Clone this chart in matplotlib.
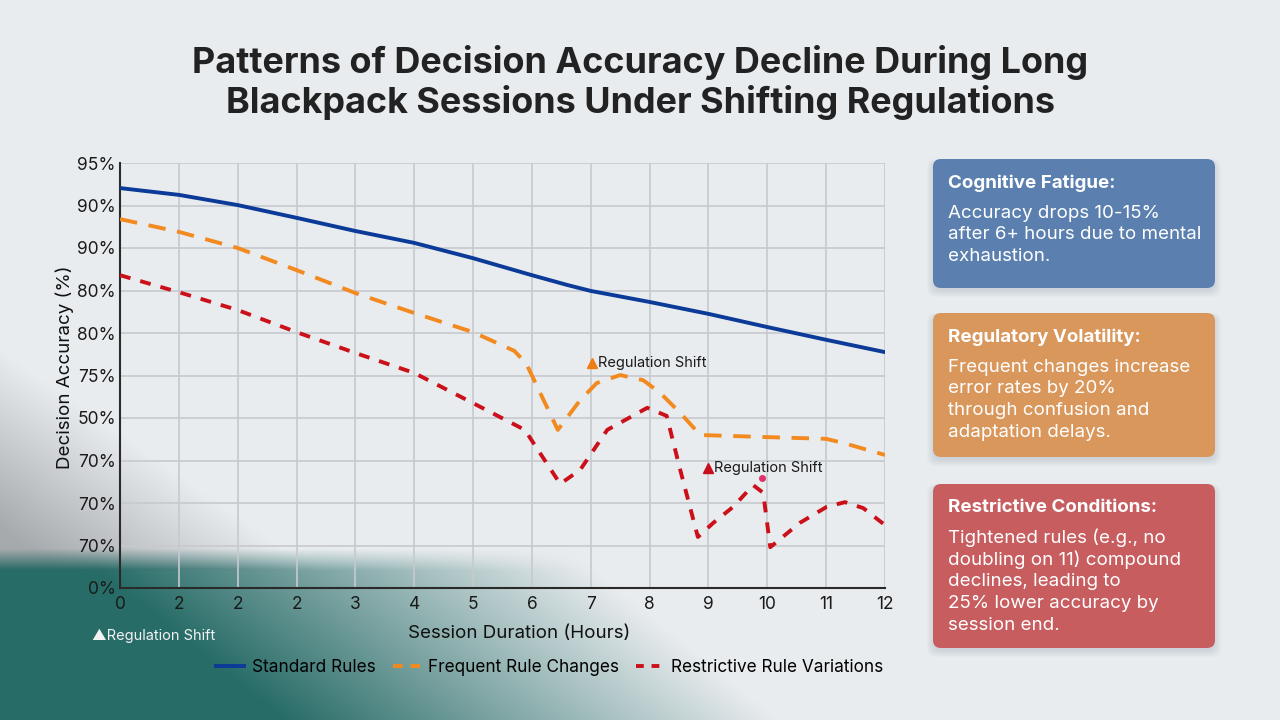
import numpy as np
import matplotlib
matplotlib.use("Agg")
import matplotlib.pyplot as plt
from matplotlib.patches import FancyBboxPatch
from matplotlib.lines import Line2D

plt.rcParams['font.family'] = ['Inter', 'DejaVu Sans']

# ---------------- data ----------------
x_tick_labels = ["0", "2", "2", "2", "3", "4", "5", "6", "7", "8", "9", "10", "11", "12"]
y_tick_labels = ["0%", "70%", "70%", "70%", "50%", "75%", "80%", "80%", "90%", "90%", "95%"]

std_x = [0, 1, 2, 3, 4, 5, 6, 7, 7.6, 8, 9, 10, 11, 12, 13]
std_y = [9.41, 9.25, 9.01, 8.71, 8.40, 8.12, 7.76, 7.36, 7.13, 6.99, 6.73, 6.45, 6.14, 5.84, 5.55]

freq_x = [0, 1, 2, 3, 4, 5, 6, 6.7, 6.9, 7.44, 7.82, 8.1, 8.5, 8.89, 9.18, 9.52, 9.86, 11.0, 12.0, 12.35, 13]
freq_y = [8.68, 8.38, 8.00, 7.48, 6.94, 6.47, 6.02, 5.58, 5.29, 3.72, 4.42, 4.82, 5.01, 4.89, 4.59, 4.12, 3.60, 3.55, 3.51, 3.39, 3.13]

restr_x = [0, 1, 2, 3, 4, 5, 6, 6.88, 7.48, 7.82, 8.28, 8.96, 9.29, 9.52, 9.82, 10.08, 10.42, 10.76, 10.93, 11.05, 11.55, 12.01, 12.32, 12.63, 13]
restr_y = [7.36, 6.96, 6.54, 6.02, 5.53, 5.06, 4.35, 3.72, 2.45, 2.78, 3.72, 4.24, 4.05, 2.78, 1.20, 1.53, 1.91, 2.42, 2.24, 0.96, 1.53, 1.91, 2.02, 1.88, 1.48]

annotations = [("Regulation Shift", 8.02, 5.29, "#ee7d12"),
               ("Regulation Shift", 9.99, 2.82, "#c8101c")]
marker_pt = (10.91, 2.59)

series_labels = ["Standard Rules", "Frequent Rule Changes", "Restrictive Rule Variations"]

title_lines = ["Patterns of Decision Accuracy Decline During Long",
               "Blackpack Sessions Under Shifting Regulations"]

boxes = [
    ("Cognitive Fatigue:", ["Accuracy drops 10-15%", "after 6+ hours due to mental", "exhaustion."], "#5b80b0", 159, 288),
    ("Regulatory Volatility:", ["Frequent changes increase", "error rates by 20%", "through confusion and", "adaptation delays."], "#d9975c", 313, 457),
    ("Restrictive Conditions:", ["Tightened rules (e.g., no", "doubling on 11) compound", "declines, leading to", "25% lower accuracy by", "session end."], "#c85d60", 484, 648),
]

BG = "#e9ecef"
W, H = 1280, 720

fig = plt.figure(figsize=(12.8, 7.2), dpi=100, facecolor=BG)

# ---------------- background decoration (photo-like fade) ----------------
bg = fig.add_axes([0, 0, 1, 1], zorder=0)
bg.set_xlim(0, W); bg.set_ylim(H, 0); bg.axis("off")
yy, xx = np.mgrid[0:H, 0:W].astype(float)
img = np.zeros((H, W, 4))
img[..., :3] = np.array([0xe9, 0xec, 0xef]) / 255.0
img[..., 3] = 1.0
# suit haze
a_suit = np.clip(0.5 - xx / 600.0 - (560 - yy) / 420.0, 0, 0.42) * (yy < 570)
col_suit = np.array([0.30, 0.31, 0.33])
# green table
edge = np.clip((yy - 548) / 22.0, 0, 1)
a_tab = np.clip(1.5 - xx / 520.0 - (720 - yy) / 420.0, 0, 0.95) * edge
col_tab = np.array([0.12, 0.40, 0.38])
for c in range(3):
    img[..., c] = img[..., c] * (1 - a_suit) + col_suit[c] * a_suit
    img[..., c] = img[..., c] * (1 - a_tab) + col_tab[c] * a_tab
bg.imshow(img, extent=(0, W, H, 0), aspect="auto", interpolation="bilinear")

# ---------------- main chart ----------------
ax = fig.add_axes([120 / W, 1 - 588 / H, 765 / W, 425 / H], zorder=1)
ax.set_facecolor("none")
ax.set_xlim(0, 13)
ax.set_ylim(0, 10)
ax.set_xticks(range(len(x_tick_labels)))
ax.set_xticklabels(x_tick_labels)
ax.set_yticks(range(len(y_tick_labels)))
ax.set_yticklabels(y_tick_labels)
ax.tick_params(length=0, labelsize=12.5, colors="#1a1a1a")
ax.tick_params(axis="y", pad=3)
ax.tick_params(axis="x", pad=6)
ax.grid(True, color="#c6cacf", linewidth=1.2)
for s in ["top", "right"]:
    ax.spines[s].set_visible(False)
for s in ["left", "bottom"]:
    ax.spines[s].set_color("#2a2a2a")
    ax.spines[s].set_linewidth(1.5)

ax.plot(std_x, std_y, color="#0b3a98", lw=2.8, solid_capstyle="round", label=series_labels[0], zorder=3)
ax.plot(freq_x, freq_y, color="#f28a1f", lw=2.8, dashes=(4.5, 3.0), label=series_labels[1], zorder=3)
ax.plot(restr_x, restr_y, color="#cc1019", lw=2.8, dashes=(2.8, 2.6), label=series_labels[2], zorder=3)
ax.plot([marker_pt[0]], [marker_pt[1]], "o", color="#e0306a", ms=4, zorder=4)

for txt, xv, yv, col in annotations:
    ax.plot([xv], [yv], marker="^", color=col, ms=7, ls="none", zorder=4)
    ax.text(xv + 0.1, yv, txt, fontsize=10.5, color="#1a1a1a", va="center", ha="left", zorder=4)

ax.set_xlabel("Session Duration (Hours)", fontsize=13.5, color="#111111")
ax.xaxis.set_label_coords(0.522, -0.087)
ax.set_ylabel("Decision Accuracy (%)", fontsize=13.5, color="#111111")
ax.yaxis.set_label_coords(-0.06, 0.52)

handles = [Line2D([0], [0], color="#0b3a98", lw=2.8),
           Line2D([0], [0], color="#f28a1f", lw=2.8, dashes=(2.5, 2.0)),
           Line2D([0], [0], color="#cc1019", lw=2.8, dashes=(2.0, 2.0))]
fig.legend(handles, series_labels, loc="center", bbox_to_anchor=(550 / W, 1 - 668 / H),
           ncol=3, frameon=False, fontsize=12.4, handlelength=1.6, handletextpad=0.45,
           columnspacing=1.0)

# ---------------- overlay: title, boxes ----------------
ov = fig.add_axes([0, 0, 1, 1], zorder=2)
ov.set_facecolor("none")
ov.set_xlim(0, W); ov.set_ylim(H, 0); ov.axis("off")

ov.text(640, 62, title_lines[0], fontsize=25.9, fontweight="bold", color="#222222", ha="center", va="center")
ov.text(640, 102, title_lines[1], fontsize=25.9, fontweight="bold", color="#222222", ha="center", va="center")

ov.text(92, 636, "\u25B2Regulation Shift", fontsize=10.5, color="#f2f2f2", ha="left", va="center")

for head, body, col, y0, y1 in boxes:
    x0, x1 = 933, 1215
    for k in range(6):
        sh = FancyBboxPatch((x0 - k * 1.2, y0 + 3 - k * 0.6), x1 - x0 + k * 2.4, y1 - y0 + k * 1.8,
                            boxstyle="round,pad=0,rounding_size=9", fc="#8090a0", ec="none",
                            alpha=0.045)
        ov.add_patch(sh)
    p = FancyBboxPatch((x0, y0), x1 - x0, y1 - y0, boxstyle="round,pad=0,rounding_size=8",
                       fc=col, ec="none")
    ov.add_patch(p)
    ov.text(x0 + 15, y0 + 24, head, fontsize=13.5, fontweight="bold", color="white", ha="left", va="center")
    for i, line in enumerate(body):
        ov.text(x0 + 15, y0 + 54 + i * 21.8, line, fontsize=13.5, color="white", ha="left", va="center")

fig.savefig("out.png", dpi=100, facecolor=BG)
